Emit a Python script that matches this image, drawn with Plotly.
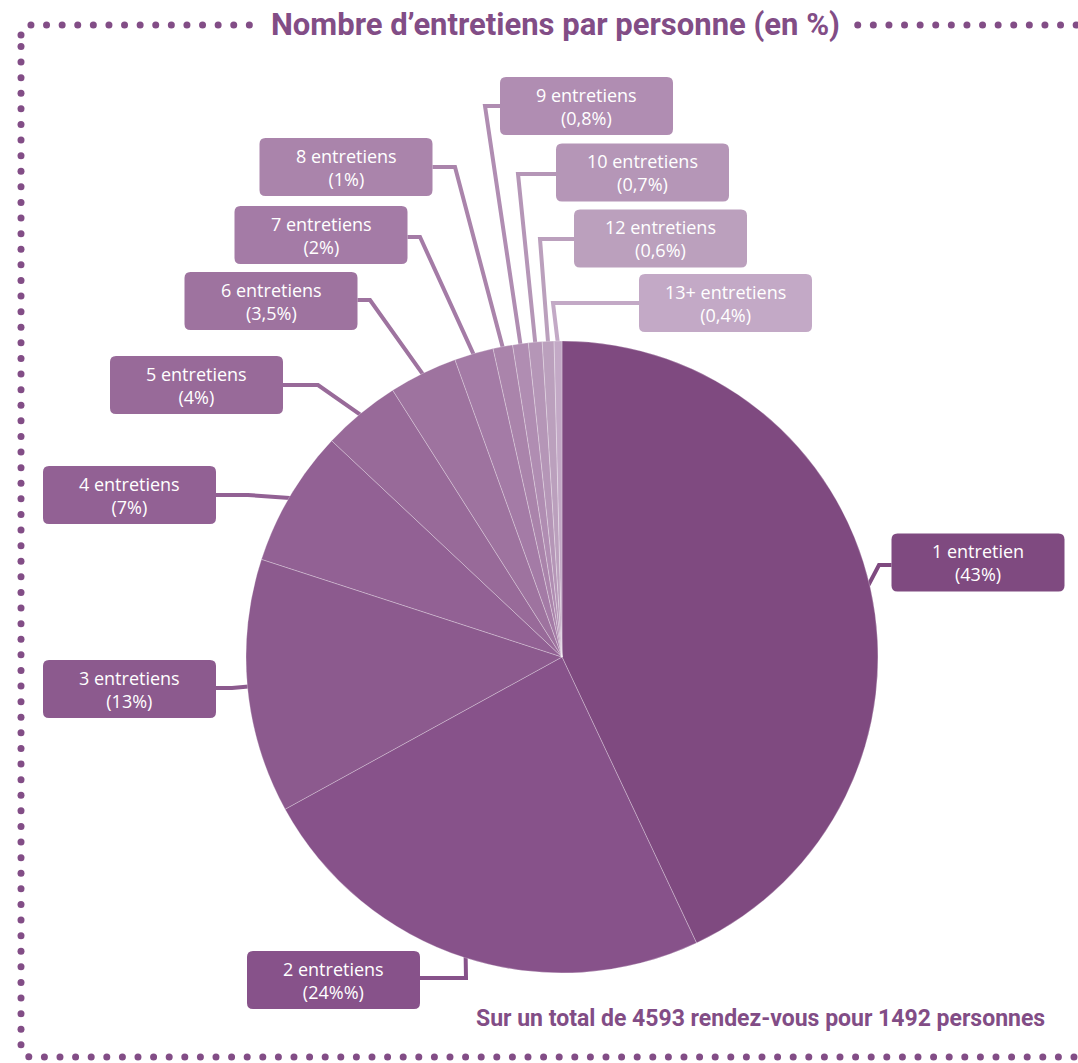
import math
import plotly.graph_objects as go

# ---------------- data ----------------
categories = ["1 entretien", "2 entretiens", "3 entretiens", "4 entretiens", "5 entretiens",
              "6 entretiens", "7 entretiens", "8 entretiens", "9 entretiens", "10 entretiens",
              "12 entretiens", "13+ entretiens"]
values = [43, 24, 13, 7, 4, 3.5, 2, 1, 0.8, 0.7, 0.6, 0.4]
value_labels = ["43%", "24%%", "13%", "7%", "4%", "3,5%", "2%", "1%", "0,8%", "0,7%", "0,6%", "0,4%"]
colors = ["#7f4a80", "#87528a", "#8c5a8e", "#926194", "#986a99", "#9e739f",
          "#a47ba6", "#aa84ab", "#b08db2", "#b596b7", "#bba0bd", "#c3a9c6"]

title_text = "Nombre d’entretiens par personne (en %)"
note_text = "Sur un total de 4593 rendez-vous pour 1492 personnes"

# ---------------- layout (pixels) ----------------
W, H = 1078, 1063
CX, CY, R = 562, 657, 316
BOX_W, BOX_H = 173, 58
box_centers = [(978, 562.5), (333.5, 980), (129.5, 689), (129.5, 495), (196.5, 385),
               (271, 301), (321, 235), (346, 167), (586.5, 106), (642.5, 172.5),
               (660.5, 238.5), (725.5, 303)]
elbows = [(879, 565), (466, 978), (232, 688), (248, 495), (318, 385), (370, 300),
          (420, 237), (455, 167), (485, 106), (518, 174), (540, 239), (553, 303)]
ACCENT = "#824d86"

fig = go.Figure()

# pie
fig.add_trace(go.Pie(
    labels=categories, values=values, sort=False, direction="clockwise", rotation=0,
    marker=dict(colors=colors, line=dict(color="rgba(255,255,255,0.45)", width=0.6)),
    textinfo="none", hoverinfo="label+percent", showlegend=False,
    domain=dict(x=[(CX - R) / W, (CX + R) / W], y=[1 - (CY + R) / H, 1 - (CY - R) / H]),
))

# dotted frame (decorative dots along a rounded rectangle, gap for the title)
L, T, Rt, B, rc = 21, 25, 1086, 1057, 10
gap = (258, 852)
step = 15.6
dx, dy = [], []
pts = []
def arc(cx, cy, a0, a1, n=6):
    for i in range(n + 1):
        a = math.radians(a0 + (a1 - a0) * i / n)
        pts.append((cx + rc * math.cos(a), cy + rc * math.sin(a)))
arc(L + rc, T + rc, 180, 270)
arc(Rt - rc, T + rc, 270, 360)
arc(Rt - rc, B - rc, 0, 90)
arc(L + rc, B - rc, 90, 180)
pts.append(pts[0])
dist_acc = 0.0
next_d = 0.0
for (x0, y0), (x1, y1) in zip(pts[:-1], pts[1:]):
    seg = math.hypot(x1 - x0, y1 - y0)
    while next_d <= dist_acc + seg:
        t = (next_d - dist_acc) / seg if seg else 0
        px, py = x0 + (x1 - x0) * t, y0 + (y1 - y0) * t
        if not (py < T + 3 and gap[0] < px < gap[1]):
            dx.append(px); dy.append(py)
        next_d += step
    dist_acc += seg

fig.add_trace(go.Scatter(x=dx, y=dy, mode="markers", hoverinfo="skip", showlegend=False,
                         marker=dict(size=7, color=ACCENT, line=dict(width=0))))

shapes = []
annotations = []

def rrect(x0, y0, x1, y1, r=6):
    return (f"M {x0+r},{y0} L {x1-r},{y0} Q {x1},{y0} {x1},{y0+r} L {x1},{y1-r} "
            f"Q {x1},{y1} {x1-r},{y1} L {x0+r},{y1} Q {x0},{y1} {x0},{y1-r} "
            f"L {x0},{y0+r} Q {x0},{y0} {x0+r},{y0} Z")

total = sum(values)
cum = 0.0
for i, v in enumerate(values):
    mid = (cum + v / 2) / total * 360.0
    cum += v
    a = math.radians(mid)
    sx, sy = CX + (R - 4) * math.sin(a), CY - (R - 4) * math.cos(a)
    bx, by = box_centers[i]
    ex, ey = elbows[i]
    edge_x = bx - BOX_W / 2 if ex < bx else bx + BOX_W / 2
    shapes.append(dict(type="path", xref="x", yref="y", layer="below",
                       path=f"M {sx},{sy} L {ex},{ey} L {edge_x},{ey}",
                       line=dict(color=colors[i], width=4)))
    shapes.append(dict(type="path", xref="x", yref="y", layer="above",
                       path=rrect(bx - BOX_W / 2, by - BOX_H / 2, bx + BOX_W / 2, by + BOX_H / 2),
                       fillcolor=colors[i], line=dict(width=0)))
    annotations.append(dict(x=bx, y=by, xref="x", yref="y", showarrow=False,
                            text=f"{categories[i]}<br>({value_labels[i]})",
                            font=dict(family="Open Sans", size=18, color="white"),
                            xanchor="center", yanchor="middle"))

annotations.append(dict(x=(gap[0] + gap[1]) / 2, y=24, xref="x", yref="y", showarrow=False,
                        text=f"<b>{title_text}</b>", xanchor="center", yanchor="middle",
                        font=dict(family="Roboto", size=31, color=ACCENT)))
annotations.append(dict(x=1047, y=1018, xref="x", yref="y", showarrow=False,
                        text=f"<b>{note_text}</b>", xanchor="right", yanchor="middle",
                        font=dict(family="Roboto", size=23, color=ACCENT)))

fig.update_layout(
    width=W, height=H, margin=dict(l=0, r=0, t=0, b=0),
    paper_bgcolor="white", plot_bgcolor="rgba(0,0,0,0)",
    xaxis=dict(range=[0, W], visible=False, fixedrange=True, domain=[0, 1]),
    yaxis=dict(range=[H, 0], visible=False, fixedrange=True, domain=[0, 1]),
    shapes=shapes, annotations=annotations, showlegend=False,
)

fig.write_html("out.html")
